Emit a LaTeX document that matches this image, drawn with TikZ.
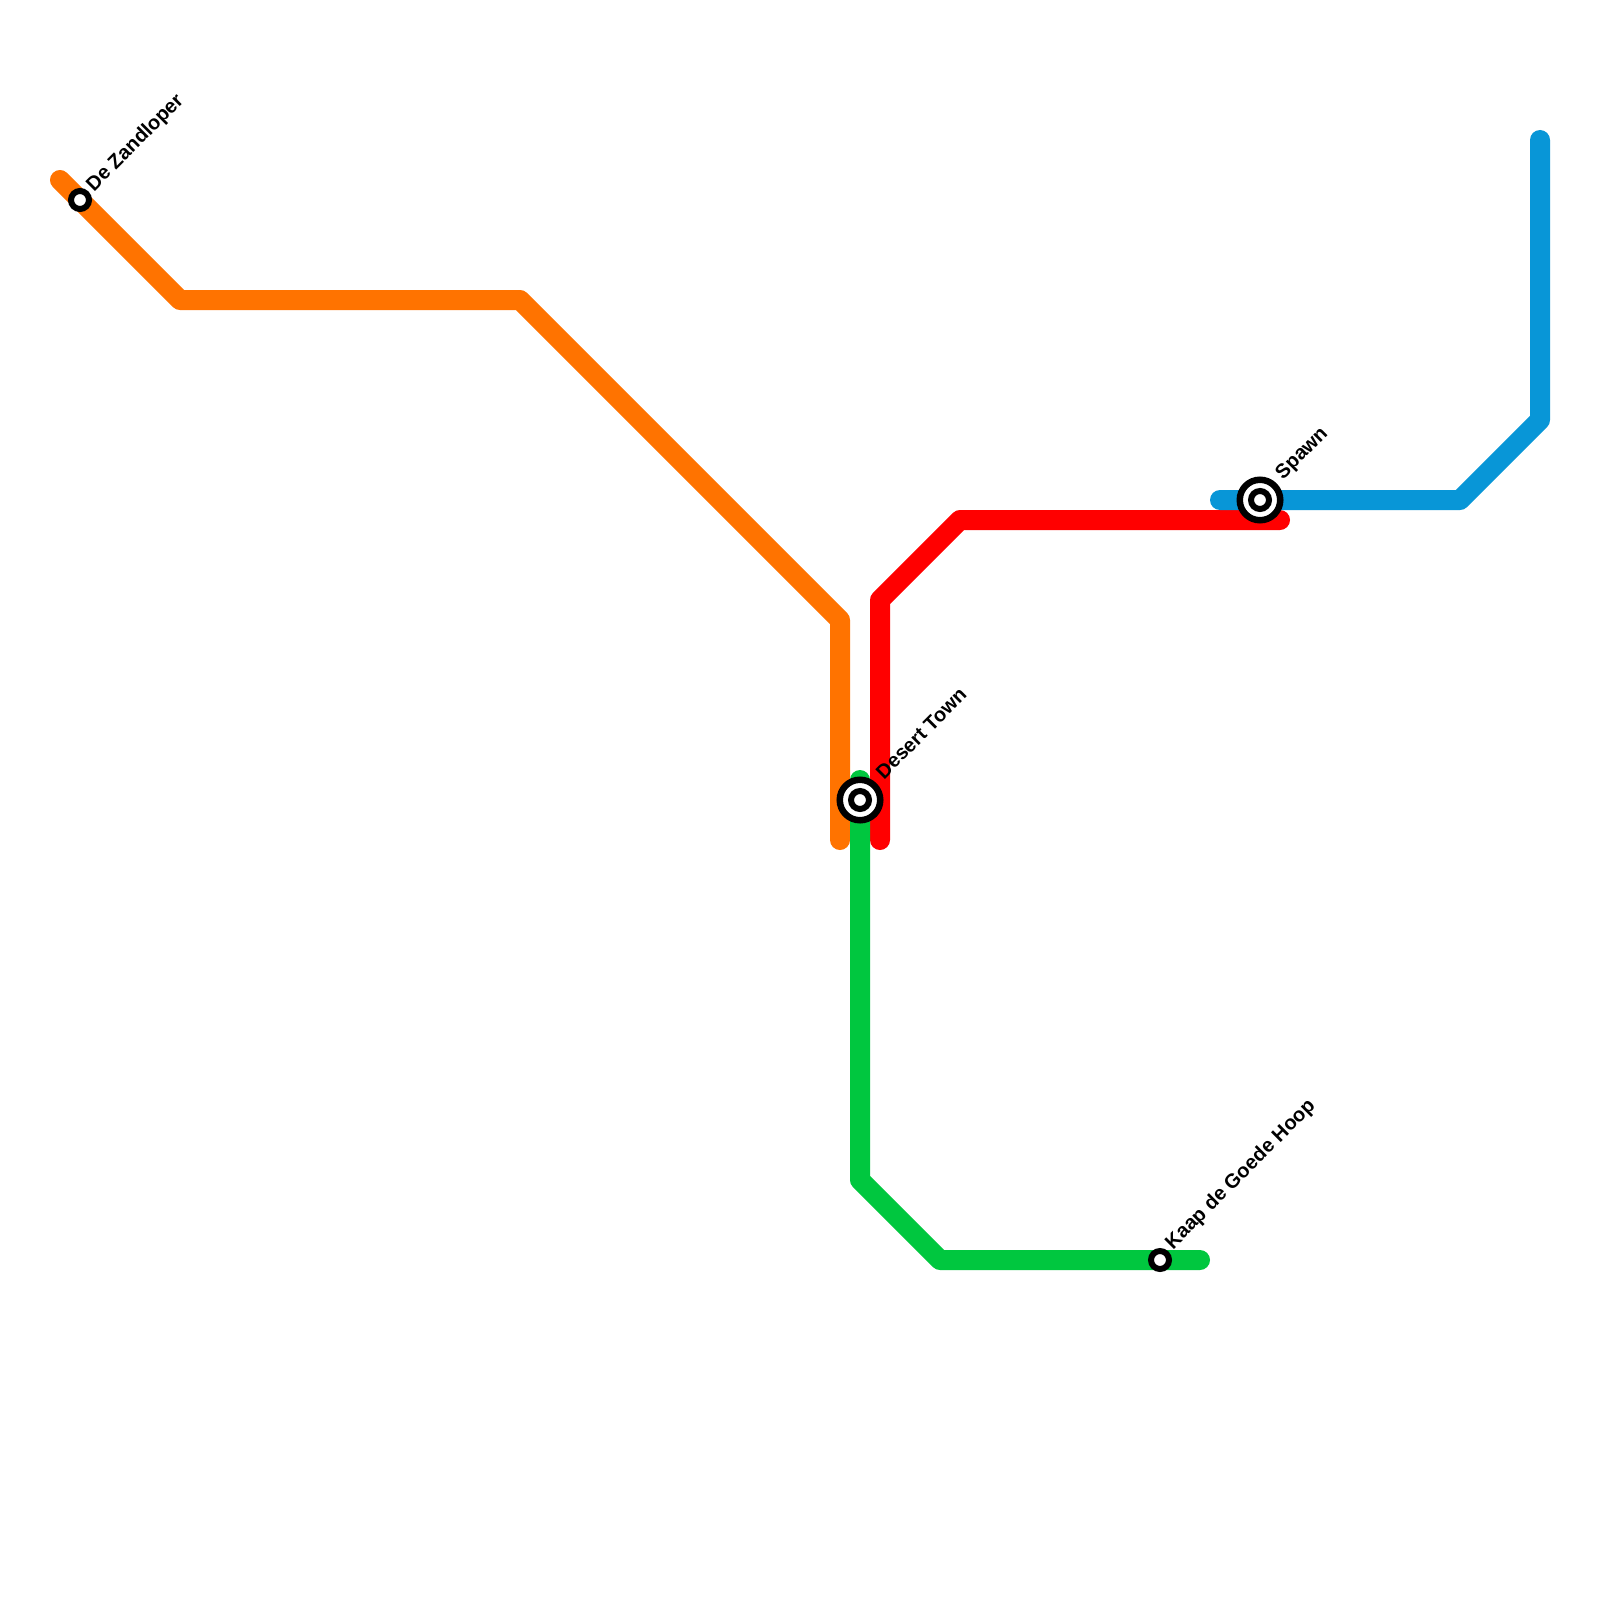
\documentclass[tikz,border=0pt]{standalone}
\usepackage{fontspec}
\setmainfont{Liberation Sans}
\newfontfamily\stationfont{Liberation Sans Bold}
\definecolor{orangeline}{HTML}{FF7300}
\definecolor{redline}{HTML}{FF0000}
\definecolor{greenline}{HTML}{00C73F}
\definecolor{blueline}{HTML}{0896D7}
\tikzset{
  x=0.5pt,y=-0.5pt,
  metro/.style={line width=10pt,line cap=round,line join=round},
  stationlabel/.style={anchor=base west,rotate=45,inner sep=0pt,outer sep=0pt,font=\stationfont\fontsize{10pt}{12pt}\selectfont,text=black},
  smallring/.style={circle,draw=black,fill=white,line width=3pt,minimum size=9pt,inner sep=0pt,outer sep=0pt},
  bigring/.style={circle,draw=black,fill=white,line width=3.25pt,minimum size=20.25pt,inner sep=0pt,outer sep=0pt},
}
\begin{document}
\begin{tikzpicture}
\useasboundingbox (0,0) rectangle (1600,1600);
\fill[white] (0,0) rectangle (1600,1600);
% orange
\coordinate (o1) at (60,180);
\coordinate (o2) at (180,300);
\coordinate (o3) at (520,300);
\coordinate (o4) at (840,620);
\coordinate (o5) at (840,840);
\draw[metro,orangeline] (o1) -- (o2) -- (o3) -- (o4) -- (o5);
% red
\coordinate (r1) at (880,840);
\coordinate (r2) at (880,600);
\coordinate (r3) at (960,520);
\coordinate (r4) at (1280,520);
\draw[metro,redline] (r1) -- (r2) -- (r3) -- (r4);
% blue
\coordinate (b1) at (1220,500);
\coordinate (b2) at (1460,500);
\coordinate (b3) at (1540,420);
\coordinate (b4) at (1540,140);
\draw[metro,blueline] (b1) -- (b2) -- (b3) -- (b4);
% green
\coordinate (g1) at (860,780);
\coordinate (g2) at (860,1180);
\coordinate (g3) at (940,1260);
\coordinate (g4) at (1200,1260);
\draw[metro,greenline] (g1) -- (g2) -- (g3) -- (g4);
% stations
\node[smallring] (zand) at (80,200) {};
\node[smallring] (kaap) at (1160,1260) {};
\node[bigring] (desert) at (860,800) {};
\node[smallring] (desertin) at (860,800) {};
\node[bigring] (spawn) at (1260,500) {};
\node[smallring] (spawnin) at (1260,500) {};
% labels
\node[stationlabel] (lzand) at (94,192) {De Zandloper};
\node[stationlabel] (lkaap) at (1173,1250) {Kaap de Goede Hoop};
\node[stationlabel] (ldesert) at (884,780) {Desert Town};
\node[stationlabel] (lspawn) at (1283,480) {Spawn};
\end{tikzpicture}
\end{document}
